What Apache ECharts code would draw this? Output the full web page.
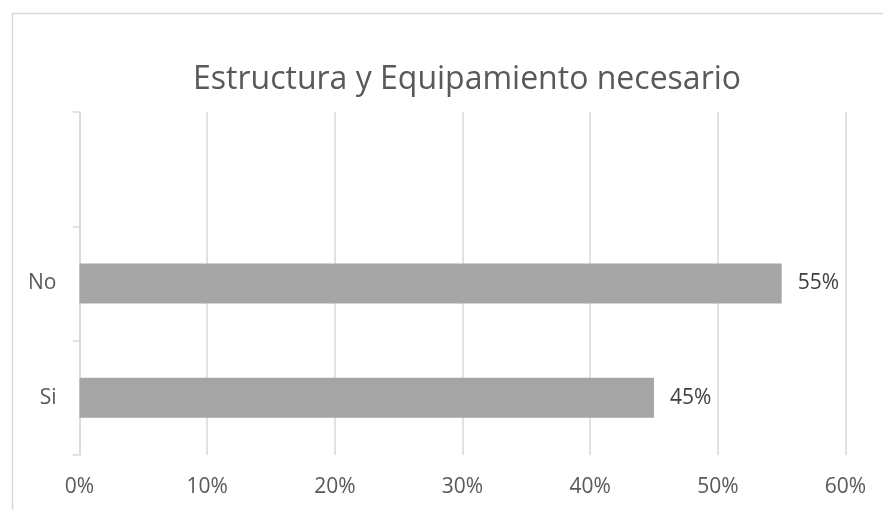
<!DOCTYPE html>
<html>
<head>
<meta charset="utf-8">
<script src="https://cdn.jsdelivr.net/npm/echarts@6/dist/echarts.min.js"></script>
<style>
  html, body { margin: 0; padding: 0; background: #ffffff; }
  #chart { width: 883px; height: 510px; }
</style>
</head>
<body>
<div id="chart"></div>
<script>
// Categories from bottom to top; the top band is left empty.
const categories = ['Si', 'No', ''];
// Share of answers, in percent.
const values = [45, 55, null];
// Horizontal axis ticks (percent).
const tickMin = 0;
const tickMax = 60;
const tickStep = 10;

const chart = echarts.init(document.getElementById('chart'), null, { renderer: 'canvas' });

const FONT = '"Open Sans", "Noto Sans", sans-serif';

chart.setOption({
  animation: false,
  backgroundColor: '#ffffff',
  title: {
    text: 'Estructura y Equipamiento necesario',
    left: 188,
    top: 59,
    textStyle: {
      fontFamily: FONT,
      fontSize: 32,
      fontWeight: 'normal',
      color: '#595959'
    }
  },
  graphic: [{
    type: 'rect',
    silent: true,
    z: -1,
    shape: { x: 12.5, y: 13.5, width: 1000, height: 600 },
    style: { fill: 'none', stroke: '#D9D9D9', lineWidth: 1.5 }
  }],
  grid: {
    left: 79.5,
    right: 37.5,
    top: 112,
    bottom: 55,
    containLabel: false
  },
  xAxis: {
    type: 'value',
    min: tickMin,
    max: tickMax,
    interval: tickStep,
    axisLine: { show: false },
    axisTick: { show: false },
    axisLabel: {
      formatter: '{value}%',
      margin: 22,
      fontFamily: FONT,
      fontSize: 21,
      color: '#595959'
    },
    splitLine: { show: true, lineStyle: { color: '#D9D9D9', width: 1.5 } }
  },
  yAxis: {
    type: 'category',
    data: categories,
    axisLine: { show: true, lineStyle: { color: '#D9D9D9', width: 1.5 } },
    axisTick: { show: true, length: 7, lineStyle: { color: '#D9D9D9', width: 1.5 } },
    axisLabel: {
      margin: 23,
      fontFamily: FONT,
      fontSize: 21,
      color: '#595959'
    },
    splitLine: { show: false }
  },
  series: [{
    type: 'bar',
    data: values,
    barWidth: '35%',
    itemStyle: { color: '#A5A5A5' },
    label: {
      show: true,
      position: 'right',
      distance: 16,
      formatter: '{c}%',
      fontFamily: FONT,
      fontSize: 21,
      color: '#404040'
    }
  }]
});
</script>
</body>
</html>
